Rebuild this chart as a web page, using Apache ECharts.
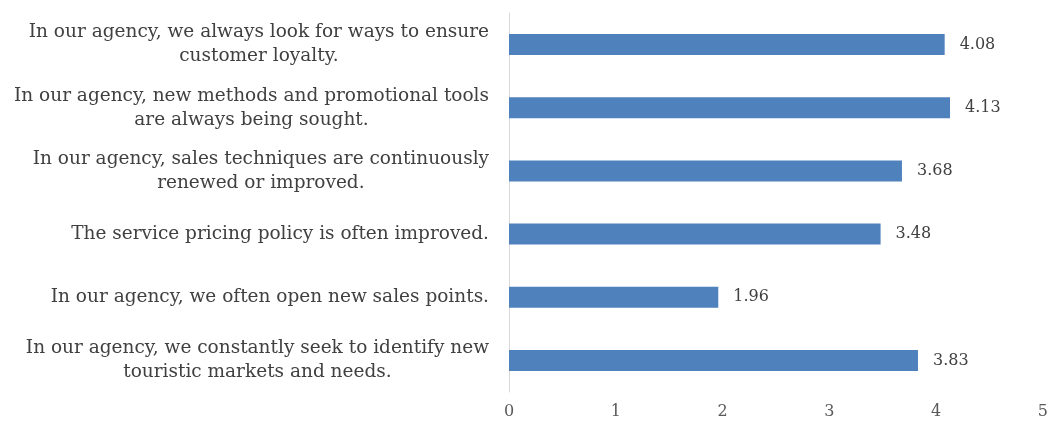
<!DOCTYPE html>
<html>
<head>
<meta charset="utf-8">
<script src="https://cdn.jsdelivr.net/npm/echarts@6/dist/echarts.min.js"></script>
<style>html,body{margin:0;padding:0;background:#fff;}#c{width:1051px;height:421px;}</style>
</head>
<body>
<div id="c"></div>
<script>
const categories = [
  "In our agency, we always look for ways to ensure\ncustomer loyalty.",
  "In our agency, new methods and promotional tools\nare always being sought.",
  "In our agency, sales techniques are continuously\nrenewed or improved.",
  "The service pricing policy is often improved.",
  "In our agency, we often open new sales points.",
  "In our agency, we constantly seek to identify new\ntouristic markets and needs."
];
const values = [4.08, 4.13, 3.68, 3.48, 1.96, 3.83];
const xTicks = [0, 1, 2, 3, 4, 5];

const chart = echarts.init(document.getElementById('c'), null, {renderer: 'canvas'});
const serif = '"DejaVu Serif", "Liberation Serif", serif';
chart.setOption({
  animation: false,
  backgroundColor: '#ffffff',
  grid: {left: 509, right: 5, top: 13, bottom: 29, containLabel: false},
  xAxis: {
    type: 'value', min: xTicks[0], max: xTicks[xTicks.length - 1], interval: 1,
    axisLine: {show: false}, axisTick: {show: false}, splitLine: {show: false},
    axisLabel: {fontFamily: serif, fontSize: 16, color: '#595959', margin: 12}
  },
  yAxis: {
    type: 'category', inverse: true, data: categories,
    axisLine: {show: true, lineStyle: {color: '#d9d9d9', width: 1}},
    axisTick: {show: false},
    axisLabel: {
      margin: 20,
      align: 'right',
      formatter: v => v.split('\n').map(l => '{a|' + l + '}').join('\n'),
      rich: {a: {fontFamily: serif, fontSize: 18.5, color: '#404040', align: 'center', lineHeight: 24}}
    }
  },
  series: [{
    type: 'bar', data: values, barWidth: 21,
    itemStyle: {color: '#4f81bd'},
    label: {show: true, position: 'right', distance: 15, fontFamily: serif, fontSize: 16, color: '#404040',
      formatter: p => p.value.toFixed(2)}
  }]
});
</script>
</body>
</html>
